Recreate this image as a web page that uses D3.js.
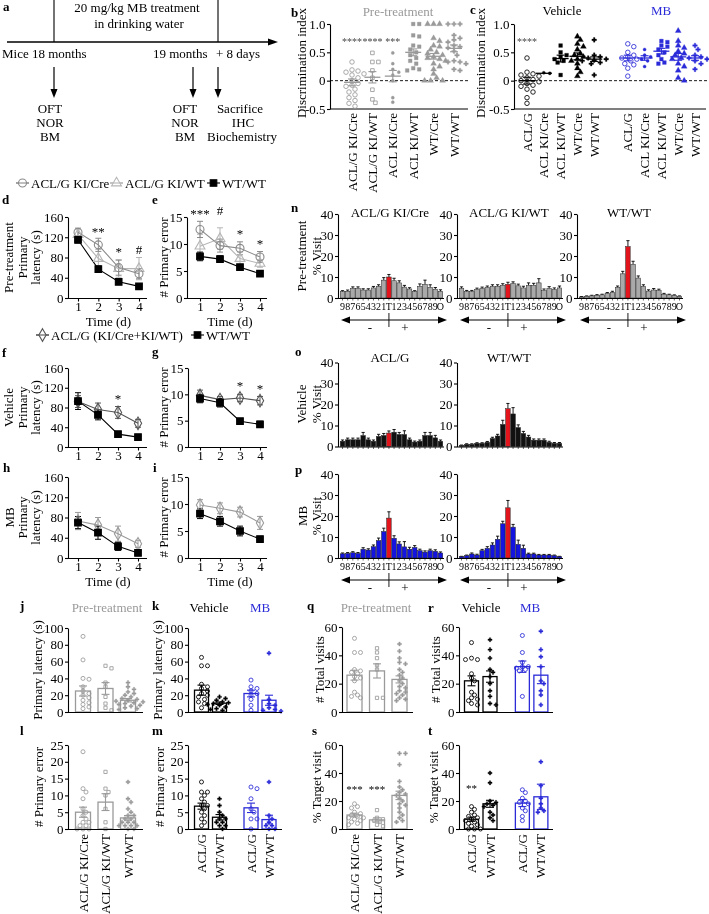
<!DOCTYPE html>
<html>
<head>
<meta charset="utf-8">
<script src="https://cdn.jsdelivr.net/npm/d3@7/dist/d3.min.js"></script>
<style>html,body{margin:0;padding:0;background:#fff;}svg{display:block;will-change:transform;}</style>
</head>
<body>
<script>
// ======================= DATA =======================
const days = [1, 2, 3, 4];

// d – pre-treatment primary latency (s), mean ± SEM
const dLatKICre = [130, 105, 60, 48];
const dLatKICreSem = [8, 13, 15, 10];
const dLatKIWT = [125, 78, 58, 58];
const dLatKIWTSem = [10, 18, 17, 22];
const dLatWT = [115, 57, 32, 23];
const dLatWTSem = [6, 6, 4, 3];
// e – pre-treatment # primary error
const eErrKICre = [12.7, 9.7, 9.2, 7.6];
const eErrKICreSem = [1.5, 1.2, 1.2, 1.0];
const eErrKIWT = [9.6, 11.0, 7.3, 6.4];
const eErrKIWTSem = [2.2, 2.0, 1.2, 0.7];
const eErrWT = [7.7, 7.2, 5.7, 4.5];
const eErrWTSem = [0.8, 0.6, 0.5, 0.3];
// f – vehicle latency
const fLatACLG = [92, 76, 70, 48];
const fLatACLGSem = [12, 13, 12, 8];
const fLatWT = [93, 65, 26, 20];
const fLatWTSem = [17, 10, 3, 3];
// g – vehicle errors
const gErrACLG = [9.8, 9.0, 9.3, 8.8];
const gErrACLGSem = [1.0, 0.6, 0.7, 0.8];
const gErrWT = [9.2, 8.4, 4.9, 4.3];
const gErrWTSem = [0.8, 0.8, 0.5, 0.6];
// h – MB latency
const hLatACLG = [73, 65, 48, 28];
const hLatACLGSem = [17, 15, 15, 7];
const hLatWT = [70, 50, 23, 10];
const hLatWTSem = [12, 13, 8, 3];
// i – MB errors
const iErrACLG = [9.8, 9.2, 8.5, 6.5];
const iErrACLGSem = [1.0, 1.0, 0.9, 1.2];
const iErrWT = [8.2, 6.8, 5.0, 3.5];
const iErrWTSem = [0.9, 0.9, 0.9, 0.5];

const dStars = [{ day: 2, v: 122, t: "**" }, { day: 3, v: 82, t: "*" }, { day: 4, v: 86, t: "#" }];
const eStars = [{ day: 1, v: 14.8, t: "***" }, { day: 2, v: 15.3, t: "#" }, { day: 3, v: 11.05, t: "*" }, { day: 4, v: 9.2, t: "*" }];
const fStars = [{ day: 3, v: 88.5, t: "*" }];
const gStars = [{ day: 3, v: 10.8, t: "*" }, { day: 4, v: 10.2, t: "*" }];

// b – NOR discrimination index, pre-treatment
const bGroups = ["ACL/G KI/Cre", "ACL/G KI/WT", "ACL KI/Cre", "ACL KI/WT", "WT/Cre", "WT/WT"];
const bKIGCre = [0.33, 0.19, 0.17, 0.15, 0.12, 0.1, 0.05, 0.0, -0.05, -0.08, -0.1, -0.15, -0.2, -0.25, -0.3, -0.35, -0.4, -0.45];
const bKIGWT = [0.49, 0.33, 0.33, 0.18, 0.05, -0.16, -0.33, -0.39];
const bKICre = [0.49, 0.3, 0.2, 0.15, 0.1, 0.0, -0.3, -0.38];
const bKIWT = [1.0, 1.0, 0.8, 0.78, 0.62, 0.6, 0.55, 0.5, 0.45, 0.4, 0.35, 0.3, 0.22, 0.2, 0.18];
const bWTCre = [1.0, 1.0, 1.0, 0.75, 0.7, 0.62, 0.6, 0.55, 0.5, 0.48, 0.45, 0.42, 0.4, 0.38, 0.35, 0.3, 0.25, 0.2, 0.12, 0.05, 0.0, 0.0, 0.0];
const bWTWT = [1.0, 1.0, 1.0, 0.8, 0.75, 0.72, 0.68, 0.62, 0.6, 0.58, 0.52, 0.45, 0.35, 0.33, 0.33, 0.3, 0.2, 0.18];
const bMean = [-0.03, 0.06, 0.08, 0.5, 0.43, 0.57];
const bSem = [0.06, 0.1, 0.1, 0.06, 0.05, 0.06];
const bStars = [{ g: 0, t: "****", v: 0.63 }, { g: 1, t: "****", v: 0.63 }, { g: 2, t: "***", v: 0.63 }];

// c – discrimination index after treatment
const cGroups = ["ACL/G", "ACL KI/Cre", "ACL KI/WT", "WT/Cre", "WT/WT"];
const cVehACLG = [0.4, 0.15, 0.12, 0.1, 0.08, 0.05, 0.02, 0, -0.02, -0.05, -0.08, -0.1, -0.15, -0.2, -0.3, -0.4];
const cVehKICre = [0.14, 0.13];
const cVehKIWT = [0.62, 0.5, 0.45, 0.42, 0.38, 0.35, 0.32, 0.1];
const cVehWTCre = [0.78, 0.72, 0.65, 0.6, 0.55, 0.48, 0.45, 0.42, 0.38, 0.35, 0.3, 0.22, 0.15, 0.08];
const cVehWTWT = [0.72, 0.45, 0.42, 0.4, 0.38, 0.36, 0.35, 0.32, 0.3, 0.1];
const cMBACLG = [0.65, 0.6, 0.5, 0.45, 0.42, 0.4, 0.38, 0.35, 0.3, 0.28, 0.22, 0.08];
const cMBKICre = [0.55, 0.45, 0.42, 0.38, 0.35, 0.25];
const cMBKIWT = [0.7, 0.68, 0.62, 0.6, 0.55, 0.5, 0.45, 0.38, 0.32, 0.3];
const cMBWTCre = [0.88, 0.7, 0.62, 0.58, 0.52, 0.48, 0.45, 0.4, 0.38, 0.3, 0.25, 0.18, 0.05, 0.0];
const cMBWTWT = [0.62, 0.55, 0.45, 0.42, 0.4, 0.38, 0.35, 0.3, 0.2];
const cVehMean = [0.0, 0.13, 0.39, 0.43, 0.38];
const cVehSem = [0.06, 0.005, 0.06, 0.06, 0.04];
const cMBMean = [0.4, 0.4, 0.52, 0.42, 0.4];
const cMBSem = [0.05, 0.04, 0.05, 0.06, 0.04];
const cStars = [{ g: 0, t: "****", v: 0.63 }];

// n, o, p – Barnes maze hole visits (% visit)
const holes = ["9", "8", "7", "6", "5", "4", "3", "2", "1", "T", "1", "2", "3", "4", "5", "6", "7", "8", "9", "O"];
const nKICre = [3, 3.2, 4.5, 4.5, 3.8, 3.8, 4.8, 5.5, 8.5, 10, 8.2, 7.2, 5.2, 4.3, 3, 5.5, 6.5, 5, 4.2, 3.2];
const nKICreSem = [0.5, 0.6, 0.8, 0.8, 0.6, 0.6, 0.7, 0.8, 1.2, 1.2, 1.2, 1.0, 0.8, 0.6, 0.5, 1.2, 2.0, 1.3, 0.8, 0.7];
const nKIWT = [4.5, 3, 3, 4, 4.5, 5, 5.5, 5.5, 6, 6.5, 6.8, 5.8, 4.8, 6, 6, 7.2, 3.5, 4.5, 4, 4.8];
const nKIWTSem = [0.8, 0.6, 0.6, 0.7, 0.7, 0.7, 0.8, 0.8, 0.8, 1.0, 0.9, 0.8, 0.8, 1.2, 1.0, 2.0, 0.8, 0.9, 0.8, 0.9];
const nWT = [0.5, 0.8, 1, 1.3, 1.5, 2.2, 2.7, 5, 11.5, 24.5, 16, 9.5, 5.5, 3.3, 3.8, 3.5, 1.8, 1.5, 1.2, 0.8];
const nWTSem = [0.2, 0.2, 0.3, 0.3, 0.3, 0.4, 0.5, 0.7, 1.2, 2.8, 1.5, 1.0, 0.8, 0.6, 0.7, 0.7, 0.4, 0.3, 0.3, 0.2];
const oACLG = [2.5, 3.2, 3.2, 3.2, 5.2, 3.2, 2.5, 4.8, 5.2, 6.4, 6.8, 5.7, 5.7, 3.2, 2.1, 2.5, 5.2, 5.2, 4.1, 2.5];
const oACLGSem = [0.6, 0.8, 0.8, 0.8, 1.5, 0.8, 0.6, 1.0, 1.0, 1.0, 1.3, 1.0, 1.8, 0.8, 0.5, 0.6, 1.5, 1.5, 1.2, 0.6];
const oWT = [0.5, 1, 1, 1.5, 1.5, 2, 3.8, 5, 10.5, 18, 15.5, 9, 6.2, 4.5, 3, 3, 3, 2, 1.5, 1.5];
const oWTSem = [0.2, 0.3, 0.3, 0.3, 0.3, 0.4, 0.6, 0.8, 2.0, 2.5, 3.0, 1.3, 1.0, 0.8, 0.6, 0.6, 0.6, 0.5, 0.4, 0.4];
const pACLG = [2, 2.2, 2.5, 2.2, 4.2, 3.8, 5.4, 8.3, 12.6, 19, 9.4, 6.7, 5.3, 4.2, 5, 3.5, 2.8, 3.5, 3.2, 2.4];
const pACLGSem = [0.4, 0.4, 0.5, 0.4, 0.7, 0.6, 0.8, 1.2, 1.6, 3.0, 1.2, 1.0, 2.5, 0.9, 0.9, 0.7, 0.6, 0.7, 0.7, 0.5];
const pWT = [0.6, 1.1, 1.9, 1.4, 3.5, 4.6, 6.2, 8.9, 16.3, 23.9, 14.7, 6.5, 4.6, 1.9, 1.9, 1.4, 1.4, 1.4, 1.1, 0.6];
const pWTSem = [0.2, 0.3, 0.5, 0.4, 0.6, 0.8, 1.0, 1.5, 1.2, 3.5, 1.3, 2.0, 1.5, 0.4, 0.4, 0.3, 0.3, 0.3, 0.3, 0.2];

// j – probe primary latency (pre-treatment); k – vehicle / MB
const jKICre = [90, 62, 40, 39, 30, 25, 22, 20, 17, 14, 11, 9, 6, 4];
const jKIWT = [55, 52, 35, 30, 18, 10, 5, 2];
const jWT = [35, 30, 27, 24, 22, 20, 18, 16, 15, 14, 13, 12, 11, 10, 9, 8, 7, 5, 4, 3];
const jMean = [25, 28, 14];
const jSem = [6, 7, 2];
const kVehACLG = [65, 55, 55, 33, 30, 28, 25, 22, 20, 18, 15, 12, 10, 5];
const kVehWT = [18, 16, 14, 12, 11, 10, 9, 8, 6, 4, 3, 2];
const kMBACLG = [38, 30, 28, 25, 22, 20, 15, 8, 2];
const kMBWT = [70, 15, 10, 8, 5, 3, 2, 1];
const kMean = [26, 10.5, 22, 14];
const kSem = [6, 1.5, 4, 6];
// l, m – probe # primary error
const lKICre = [23, 12, 11, 9, 6, 5, 4, 3, 2, 2, 1, 1, 0, 0, 0];
const lKIWT = [17, 12, 11, 10, 6, 2, 0];
const lWT = [14, 9, 8, 6, 5, 4, 4, 3, 3, 2, 2, 2, 1, 1, 1, 1, 0, 0];
const lMean = [5, 8, 3.3];
const lSem = [1.5, 2.5, 0.7];
const mVehACLG = [14, 11, 11, 10, 9, 8, 7, 7, 6, 5, 4, 3, 2, 1];
const mVehWT = [9, 7, 5, 4, 3, 3, 2, 2, 1, 1, 0];
const mMBACLG = [12, 12.5, 9, 6, 5, 3, 3, 0];
const mMBWT = [14, 4, 3, 2, 1, 1, 0, 0];
const mMean = [6.8, 3.5, 6.3, 2.8];
const mSem = [0.9, 0.8, 1.4, 1.3];
// q, r – # total visits
const qKICre = [52, 42, 42, 30, 29, 28, 27, 25, 24, 22, 14, 12, 11, 10];
const qKIWT = [45, 42, 38, 33, 30, 10, 10];
const qWT = [48, 43, 38, 35, 34, 30, 28, 26, 24, 22, 20, 18, 17, 15, 14, 13, 12, 10, 9, 8];
const qMean = [26, 29, 23];
const qSem = [3.5, 5, 2.5];
const rVehACLG = [49, 38, 37, 37, 27, 24, 22, 14, 12, 10, 9, 8, 6, 5];
const rVehWT = [51, 44, 38, 30, 28, 25, 20, 15, 11, 6, 5];
const rMBACLG = [54, 42, 35, 32, 32, 31, 30, 29, 11];
const rMBWT = [57, 44, 39, 32, 22, 20, 15, 12, 5];
const rMean = [22, 25, 32, 26];
const rSem = [3.5, 4, 4, 6];
// s, t – % target visit
const sKICre = [18, 16, 15, 12, 11, 10, 9, 8, 8, 7, 6, 5, 4, 3];
const sKIWT = [13.5, 8, 7, 6, 5, 3, 2];
const sWT = [54, 54, 46, 34, 30, 28, 26, 25, 24, 22, 20, 18, 17, 15, 12, 10, 8, 6, 5];
const sMean = [10, 6.5, 24];
const sSem = [1.3, 1.5, 3];
const sStars = [{ g: 0, t: "***", v: 25.7 }, { g: 1, t: "***", v: 25.7 }];
const tVehACLG = [16, 14, 12, 10, 9, 8, 7, 6, 5, 4, 3, 2, 0, 0, 0];
const tVehWT = [40, 33, 20, 19, 18, 17, 16, 12, 10, 8, 6];
const tMBACLG = [28, 26, 22, 20, 19, 18, 15, 13, 9, 6];
const tMBWT = [48, 31, 22, 18, 15, 13, 12];
const tMean = [7, 18, 18.5, 23];
const tSem = [1.5, 2.5, 2.5, 9];
const tStars = [{ g: 0, t: "**", v: 26.4 }];

const preLabels = ["ACL/G KI/Cre", "ACL/G KI/WT", "WT/WT"];
const postLabels = ["ACL/G", "WT/WT", "ACL/G", "WT/WT"];

// ======================= STYLE / HELPERS =======================
const SERIF = "'Liberation Serif','Times New Roman',Times,serif";
const GRAY = "#9a9a9a", LGRAY = "#b5b5b5", MGRAY = "#8a8a8a", DGRAY = "#555555";
const BLUE = "#2b2bd8", RED = "#e3141b", BARGRAY = "#a9a9a9";

const svg = d3.select("body").append("svg").attr("width", 709).attr("height", 914)
  .attr("font-family", SERIF);

function txt(x, y, s, o = {}) {
  const t = svg.append("text").attr("x", x).attr("y", y).text(s)
    .attr("font-size", o.size || 13).attr("text-anchor", o.anchor || "start")
    .attr("fill", o.color || "#000");
  if (o.bold) t.attr("font-weight", "bold");
  return t;
}
function vtxt(x, y, s, o = {}) {
  return svg.append("text").attr("transform", `translate(${x},${y}) rotate(-90)`).text(s)
    .attr("font-size", o.size || 13).attr("text-anchor", o.anchor || "middle")
    .attr("fill", o.color || "#000");
}
function ln(x1, y1, x2, y2, o = {}) {
  const l = svg.append("line").attr("x1", x1).attr("y1", y1).attr("x2", x2).attr("y2", y2)
    .attr("stroke", o.color || "#000").attr("stroke-width", o.w || 1.1);
  if (o.dash) l.attr("stroke-dasharray", o.dash);
  return l;
}
function tri(points, color) {
  svg.append("path").attr("d", "M" + points.map(p => p.join(",")).join("L") + "Z").attr("fill", color || "#000");
}
function yAxis(x, scale, ticks, fmt) {
  const g = svg.append("g").attr("transform", `translate(${x},0)`)
    .call(d3.axisLeft(scale).tickValues(ticks).tickSize(3).tickSizeOuter(0).tickPadding(1.5)
      .tickFormat(fmt || (d => String(d))));
  g.attr("font-family", SERIF).attr("font-size", 13);
  g.selectAll("path,line").attr("stroke", "#000").attr("stroke-width", 1.1);
  return g;
}
const ST = {
  oc: { type: d3.symbolCircle, size: 16, open: true },
  os: { type: d3.symbolSquare, size: 13, open: true },
  dot: { type: d3.symbolCircle, size: 8, open: false },
  fs: { type: d3.symbolSquare, size: 14, open: false },
  ft: { type: d3.symbolTriangle, size: 15, open: false },
  fx: { type: d3.symbolCross, size: 12, open: false }
};
function sym(x, y, st, color, mul = 1) {
  svg.append("path").attr("d", d3.symbol().type(st.type).size(st.size * mul)())
    .attr("transform", `translate(${x},${y})`)
    .attr("fill", st.open ? "none" : color)
    .attr("stroke", color).attr("stroke-width", st.open ? 0.85 : 0.3);
}
function dodge(vals, y, r, step) {
  const order = vals.map((v, i) => i).sort((a, b) => vals[b] - vals[a]);
  const placed = [], off = new Array(vals.length).fill(0);
  for (const i of order) {
    const py = y(vals[i]);
    let chosen = 0;
    for (let k = 0; k < 80; k++) {
      const o = k === 0 ? 0 : (k % 2 ? 1 : -1) * Math.ceil(k / 2) * step;
      if (placed.every(p => (p.x - o) ** 2 + (p.y - py) ** 2 >= (2 * r) ** 2)) { chosen = o; break; }
    }
    off[i] = chosen; placed.push({ x: chosen, y: py });
  }
  return off;
}
function errI(cx, yLo, yHi, half, color, w) {
  ln(cx, yLo, cx, yHi, { color, w: w || 1.1 });
  ln(cx - half, yHi, cx + half, yHi, { color, w: w || 1.1 });
  ln(cx - half, yLo, cx + half, yLo, { color, w: w || 1.1 });
}

// ======================= PANEL a =======================
txt(3, 11, "a", { bold: true });
txt(137, 12, "20 mg/kg MB treatment", { anchor: "middle" });
txt(139, 28, "in drinking water", { anchor: "middle" });
ln(54, 0, 54, 42); ln(218, 0, 218, 42);
ln(7, 42, 270, 42, { w: 1.3 });
tri([[278, 42], [268, 38.5], [268, 45.5]]);
txt(2, 58, "Mice 18 months");
txt(153, 58, "19 months");
txt(216, 58, "+ 8 days");
[54, 193, 218].forEach(x => { ln(x, 67, x, 90, { w: 1.2 }); tri([[x, 98], [x - 3.5, 89], [x + 3.5, 89]]); });
[["OFT", 113], ["NOR", 127], ["BM", 141]].forEach(([s, y]) => { txt(50, y, s, { anchor: "middle" }); txt(185, y, s, { anchor: "middle" }); });
txt(240, 113, "Sacrifice", { anchor: "middle" });
txt(243, 127, "IHC", { anchor: "middle" });
txt(242, 141, "Biochemistry", { anchor: "middle" });

// ======================= PANELS b, c =======================
const fmtDI = d => d === 0 ? "0" : (d < 0 ? "-" : "") + Math.abs(d).toFixed(1);
function scatterGroup(cx, y, pts, mean, sem, color, st) {
  const off = dodge(pts, y, 2.1, 3.0);
  pts.forEach((v, i) => sym(cx + off[i], y(v), st, color));
  ln(cx - 8, y(mean), cx + 8, y(mean), { color, w: 1.3 });
  if (sem > 0.01) errI(cx, y(mean - sem), y(mean + sem), 4, color, 1.1);
}
{
  txt(291, 17, "b", { bold: true });
  txt(398, 16, "Pre-treatment", { anchor: "middle", color: GRAY });
  const y = d3.scaleLinear().domain([-0.5, 1.0]).range([109, 24]);
  const x = d3.scaleLinear().domain([0, 1]).range([352, 372.4]);
  yAxis(330, y, [-0.5, 0, 0.5, 1.0], fmtDI);
  ln(330, y(-0.5), 468, y(-0.5));
  ln(330, y(0), 468, y(0), { dash: "3,2", w: 0.9 });
  vtxt(306, 63, "Discrimination index");
  const sets = [bKIGCre, bKIGWT, bKICre, bKIWT, bWTCre, bWTWT];
  const shapes = [ST.oc, ST.os, ST.dot, ST.fs, ST.ft, ST.fx];
  sets.forEach((pts, i) => scatterGroup(x(i), y, pts, bMean[i], bSem[i], GRAY, shapes[i]));
  bGroups.forEach((g, i) => vtxt(x(i) + 4.5, 113, g, { anchor: "end" }));
  bStars.forEach(s => txt(x(s.g), y(s.v), s.t, { anchor: "middle", size: 10, color: "#444" }));
}
{
  txt(470, 14, "c", { bold: true });
  txt(562, 15, "Vehicle", { anchor: "middle" });
  txt(661, 15, "MB", { anchor: "middle", color: BLUE });
  const y = d3.scaleLinear().domain([-0.5, 1.0]).range([109, 24]);
  const x = d3.scaleLinear().domain([0, 1]).range([527, 543.8]);
  yAxis(514, y, [-0.5, 0, 0.5, 1.0], fmtDI);
  ln(514, y(-0.5), 706, y(-0.5));
  ln(514, y(0), 709, y(0), { dash: "3,2", w: 0.9 });
  vtxt(485, 63, "Discrimination index");
  const veh = [cVehACLG, cVehKICre, cVehKIWT, cVehWTCre, cVehWTWT];
  const mb = [cMBACLG, cMBKICre, cMBKIWT, cMBWTCre, cMBWTWT];
  const shapes = [ST.oc, ST.dot, ST.fs, ST.ft, ST.fx];
  veh.forEach((pts, i) => scatterGroup(x(i), y, pts, cVehMean[i], cVehSem[i], "#000", shapes[i]));
  mb.forEach((pts, i) => scatterGroup(x(i + 6), y, pts, cMBMean[i], cMBSem[i], BLUE, shapes[i]));
  cGroups.forEach((g, i) => { vtxt(x(i) + 4.5, 113, g, { anchor: "end" }); vtxt(x(i + 6) + 4.5, 113, g, { anchor: "end" }); });
  cStars.forEach(s => txt(x(s.g), y(s.v), s.t, { anchor: "middle", size: 10, color: "#444" }));
}

// ======================= LINE PANELS d–i =======================
const LS = {
  circ: { type: d3.symbolCircle, size: 50, open: true },
  triU: { type: d3.symbolTriangle, size: 42, open: true },
  sq: { type: d3.symbolSquare, size: 44, open: false },
  dia: { type: d3.symbolDiamond, size: 46, open: true }
};
function linePanel(o) {
  const x = d3.scaleLinear().domain([1, 4]).range([o.x1, o.x4]);
  const y = d3.scaleLinear().domain([0, o.yMax]).range([o.yBot, o.yTop]);
  yAxis(o.axisX, y, o.yTicks);
  ln(o.axisX, o.yBot + 0.5, o.xEnd, o.yBot + 0.5);
  const gx = svg.append("g").attr("transform", `translate(0,${o.yBot + 0.5})`)
    .call(d3.axisBottom(x).tickValues(days).tickSize(3).tickSizeOuter(0).tickPadding(0).tickFormat(d => String(d)));
  gx.select(".domain").remove();
  gx.attr("font-family", SERIF).attr("font-size", 13);
  gx.selectAll("line").attr("stroke", "#000").attr("stroke-width", 1.1);
  if (o.time) txt((o.x1 + o.x4) / 2, o.yBot + 28, "Time (d)", { anchor: "middle" });
  o.series.forEach(s => {
    s.v.forEach((v, i) => { if (s.s[i] > 0) errI(x(days[i]), y(v - s.s[i]), y(v + s.s[i]), 3, s.color, 1); });
  });
  o.series.forEach(s => {
    svg.append("path").datum(s.v)
      .attr("d", d3.line().x((v, i) => x(days[i])).y(v => y(v)))
      .attr("fill", "none").attr("stroke", s.color).attr("stroke-width", 1.1);
  });
  o.series.forEach(s => {
    s.v.forEach((v, i) => {
      svg.append("path").attr("d", d3.symbol().type(s.m.type).size(s.m.size)())
        .attr("transform", `translate(${x(days[i])},${y(v)})`)
        .attr("fill", s.m.open ? "none" : s.color).attr("stroke", s.color).attr("stroke-width", 1.1);
    });
  });
  (o.stars || []).forEach(st => txt(x(st.day), y(st.v), st.t, { anchor: "middle", size: 13 }));
  o.ylab.forEach((t, i) => vtxt(o.ylabX[i], (o.yTop + o.yBot) / 2, t));
}
const latTicks = [0, 40, 80, 120, 160], errTicks = [0, 5, 10, 15];
txt(2, 204, "d", { bold: true });
txt(152, 204, "e", { bold: true });
linePanel({ axisX: 68, xEnd: 147, x1: 78, x4: 139, yTop: 217, yBot: 298, yMax: 160, yTicks: latTicks, time: true,
  series: [{ v: dLatKIWT, s: dLatKIWTSem, color: LGRAY, m: LS.triU }, { v: dLatKICre, s: dLatKICreSem, color: MGRAY, m: LS.circ }, { v: dLatWT, s: dLatWTSem, color: "#000", m: LS.sq }],
  stars: dStars, ylab: ["Pre-treatment", "Primary", "latency (s)"], ylabX: [13, 26.5, 39.5] });
linePanel({ axisX: 187, xEnd: 267, x1: 200, x4: 260, yTop: 217, yBot: 298, yMax: 15, yTicks: errTicks, time: true,
  series: [{ v: eErrKIWT, s: eErrKIWTSem, color: LGRAY, m: LS.triU }, { v: eErrKICre, s: eErrKICreSem, color: MGRAY, m: LS.circ }, { v: eErrWT, s: eErrWTSem, color: "#000", m: LS.sq }],
  stars: eStars, ylab: ["# Primary error"], ylabX: [168] });

// legends
function legItem(x0, y0, m, color, label) {
  ln(x0, y0, x0 + 13, y0, { color, w: 1.1 });
  svg.append("path").attr("d", d3.symbol().type(m.type).size(m.size)()).attr("transform", `translate(${x0 + 6.5},${y0})`)
    .attr("fill", m.open ? "#fff" : color).attr("stroke", color).attr("stroke-width", 1.1);
  if (m.open) ln(x0, y0, x0 + 13, y0, { color, w: 1.1 });
  txt(x0 + 15, y0 + 4.5, label);
}
legItem(16, 183, LS.circ, MGRAY, "ACL/G KI/Cre");
legItem(110, 183, LS.triU, LGRAY, "ACL/G KI/WT");
legItem(207, 183, LS.sq, "#000", "WT/WT");
legItem(36, 335, LS.dia, DGRAY, "ACL/G (KI/Cre+KI/WT)");
legItem(191, 335, LS.sq, "#000", "WT/WT");

txt(2, 357, "f", { bold: true });
txt(152, 356, "g", { bold: true });
linePanel({ axisX: 68, xEnd: 147, x1: 78, x4: 138, yTop: 368, yBot: 447, yMax: 160, yTicks: latTicks, time: false,
  series: [{ v: fLatACLG, s: fLatACLGSem, color: DGRAY, m: LS.dia }, { v: fLatWT, s: fLatWTSem, color: "#000", m: LS.sq }],
  stars: fStars, ylab: ["Vehicle", "Primary", "latency (s)"], ylabX: [13, 26.5, 39.5] });
linePanel({ axisX: 188, xEnd: 267, x1: 200, x4: 260, yTop: 368, yBot: 447, yMax: 15, yTicks: errTicks, time: false,
  series: [{ v: gErrACLG, s: gErrACLGSem, color: DGRAY, m: LS.dia }, { v: gErrWT, s: gErrWTSem, color: "#000", m: LS.sq }],
  stars: gStars, ylab: ["# Primary error"], ylabX: [168] });

txt(3, 472, "h", { bold: true });
txt(153, 472, "i", { bold: true });
linePanel({ axisX: 68, xEnd: 147, x1: 78, x4: 138, yTop: 477, yBot: 558, yMax: 160, yTicks: latTicks, time: true,
  series: [{ v: hLatACLG, s: hLatACLGSem, color: GRAY, m: LS.dia }, { v: hLatWT, s: hLatWTSem, color: "#000", m: LS.sq }],
  ylab: ["MB", "Primary", "latency (s)"], ylabX: [14, 27, 40] });
linePanel({ axisX: 188, xEnd: 267, x1: 200, x4: 260, yTop: 477, yBot: 558, yMax: 15, yTicks: errTicks, time: true,
  series: [{ v: iErrACLG, s: iErrACLGSem, color: GRAY, m: LS.dia }, { v: iErrWT, s: iErrWTSem, color: "#000", m: LS.sq }],
  ylab: ["# Primary error"], ylabX: [168] });

// ======================= MAZE PANELS n, o, p =======================
function mazePanel(o) {
  const x = d3.scaleBand().domain(d3.range(holes.length)).range([o.start, o.start + 103]).paddingInner(0.12).paddingOuter(0.05);
  const y = d3.scaleLinear().domain([0, 40]).range([o.yZero, o.yZero - 84]);
  const ax = o.start - 2;
  yAxis(ax, y, [0, 10, 20, 30, 40]);
  o.vals.forEach((v, i) => {
    const cx = x(i) + x.bandwidth() / 2;
    ln(cx, y(v), cx, y(v + o.sems[i]), { w: 0.9 });
    ln(cx - 1.6, y(v + o.sems[i]), cx + 1.6, y(v + o.sems[i]), { w: 0.9 });
  });
  o.vals.forEach((v, i) => {
    svg.append("rect").attr("x", x(i)).attr("y", y(v)).attr("width", x.bandwidth()).attr("height", o.yZero - y(v))
      .attr("fill", holes[i] === "T" ? RED : o.fill).attr("stroke", "#222").attr("stroke-width", 0.5);
  });
  ln(ax, o.yZero + 0.5, o.start + 104, o.yZero + 0.5);
  holes.forEach((h, i) => ln(x(i) + x.bandwidth() / 2, o.yZero + 0.5, x(i) + x.bandwidth() / 2, o.yZero + 2.5, { w: 0.6 }));
  const tX = x(holes.indexOf("T")) + x.bandwidth() / 2;
  if (o.title) txt(tX + 1, o.titleY, o.title, { anchor: "middle" });
  if (o.showX) {
    holes.forEach((h, i) => txt(x(i) + x.bandwidth() / 2, o.yZero + 12, h, { anchor: "middle", size: 10 }));
    const ay = o.yZero + 22;
    ln(o.start + 8, ay, o.start + 100, ay, { w: 1.2 });
    tri([[o.start + 1, ay], [o.start + 10, ay - 3.5], [o.start + 10, ay + 3.5]]);
    tri([[o.start + 107, ay], [o.start + 98, ay - 3.5], [o.start + 98, ay + 3.5]]);
    ln(tX, ay - 7, tX, ay + 7, { w: 0.9 });
    txt(tX - 19, ay + 12, "-", { anchor: "middle" });
    txt(tX + 16, ay + 12, "+", { anchor: "middle" });
  }
}
txt(291, 212, "n", { bold: true });
vtxt(306, 256, "Pre-treatment"); vtxt(321, 256, "% Visit");
mazePanel({ start: 340, yZero: 298, vals: nKICre, sems: nKICreSem, fill: BARGRAY, showX: true, title: "ACL/G KI/Cre", titleY: 217 });
mazePanel({ start: 459, yZero: 298, vals: nKIWT, sems: nKIWTSem, fill: BARGRAY, showX: true, title: "ACL/G KI/WT", titleY: 217 });
mazePanel({ start: 579, yZero: 298, vals: nWT, sems: nWTSem, fill: BARGRAY, showX: true, title: "WT/WT", titleY: 217 });
txt(295, 356, "o", { bold: true });
vtxt(306, 404, "Vehicle"); vtxt(321, 404, "% Visit");
mazePanel({ start: 340, yZero: 446.5, vals: oACLG, sems: oACLGSem, fill: "#111", showX: false, title: "ACL/G", titleY: 362 });
mazePanel({ start: 459, yZero: 446.5, vals: oWT, sems: oWTSem, fill: "#111", showX: false, title: "WT/WT", titleY: 362 });
txt(295, 474, "p", { bold: true });
vtxt(307, 516, "MB"); vtxt(321, 516, "% Visit");
mazePanel({ start: 340, yZero: 558, vals: pACLG, sems: pACLGSem, fill: "#1414e0", showX: true });
mazePanel({ start: 459, yZero: 558, vals: pWT, sems: pWTSem, fill: "#1414e0", showX: true });

// ======================= BAR + SCATTER PANELS j–m, q–t =======================
function barPanel(o) {
  const y = d3.scaleLinear().domain([0, o.yMax]).range([o.yBot, o.yTop]);
  yAxis(o.axisX, y, o.yTicks);
  o.sets.forEach((pts, i) => {
    const cx = o.x(o.slots[i]);
    const col = o.colors[i];
    const m = o.mean[i];
    svg.append("rect").attr("x", cx - o.bw / 2).attr("y", y(m)).attr("width", o.bw).attr("height", o.yBot - y(m))
      .attr("fill", "#fff").attr("stroke", col).attr("stroke-width", 1.3);
    const off = dodge(pts, y, 2.0, 3.0);
    pts.forEach((v, k) => sym(cx + off[k], y(v), o.shapes[i], col, 0.8));
    errI(cx, y(m - o.sem[i]), y(m + o.sem[i]), 4, col, 1.1);
  });
  ln(o.axisX, o.yBot + 0.5, o.xEnd, o.yBot + 0.5, { w: 1.2 });
  vtxt(o.ylabX, (o.yTop + o.yBot) / 2, o.ylab);
  if (o.labels) o.labels.forEach((t, i) => vtxt(o.x(o.slots[i]) + 4.5, o.yBot + 5, t, { anchor: "end" }));
  (o.stars || []).forEach(s => txt(o.x(o.slots[s.g]), y(s.v), s.t, { anchor: "middle", size: 11 }));
}
const preX = d3.scaleLinear().domain([0, 1]).range([83, 105.5]);
const postX = d3.scaleLinear().domain([0, 1]).range([201.5, 219.5]);
const preSlots = [0, 1, 2], postSlots = [0, 1, 2.75, 3.75];
const preShapes = [ST.oc, ST.os, ST.fx], postShapes = [ST.oc, ST.fx, ST.oc, ST.fx];
const preColors = [GRAY, GRAY, GRAY], postColors = ["#000", "#000", BLUE, BLUE];

txt(20, 610, "j", { bold: true });
txt(107, 612, "Pre-treatment", { anchor: "middle", color: GRAY });
barPanel({ axisX: 68, xEnd: 143, yTop: 628, yBot: 712, yMax: 100, yTicks: [0, 20, 40, 60, 80, 100], x: preX, slots: preSlots, bw: 15,
  sets: [jKICre, jKIWT, jWT], mean: jMean, sem: jSem, colors: preColors, shapes: preShapes, ylab: "Primary latency (s)", ylabX: 42 });
txt(152, 610, "k", { bold: true });
txt(209, 612, "Vehicle", { anchor: "middle" });
txt(260, 612, "MB", { anchor: "middle", color: BLUE });
barPanel({ axisX: 188, xEnd: 282, yTop: 628, yBot: 712, yMax: 100, yTicks: [0, 20, 40, 60, 80, 100], x: postX, slots: postSlots, bw: 14,
  sets: [kVehACLG, kVehWT, kMBACLG, kMBWT], mean: kMean, sem: kSem, colors: postColors, shapes: postShapes, ylab: "Primary latency (s)", ylabX: 162 });
txt(20, 735, "l", { bold: true });
barPanel({ axisX: 68, xEnd: 143, yTop: 745, yBot: 829, yMax: 25, yTicks: [0, 5, 10, 15, 20, 25], x: preX, slots: preSlots, bw: 15,
  sets: [lKICre, lKIWT, lWT], mean: lMean, sem: lSem, colors: preColors, shapes: preShapes, ylab: "# Primary error", ylabX: 43, labels: preLabels });
txt(152, 735, "m", { bold: true });
barPanel({ axisX: 188, xEnd: 282, yTop: 745, yBot: 829, yMax: 25, yTicks: [0, 5, 10, 15, 20, 25], x: postX, slots: postSlots, bw: 14,
  sets: [mVehACLG, mVehWT, mMBACLG, mMBWT], mean: mMean, sem: mSem, colors: postColors, shapes: postShapes, ylab: "# Primary error", ylabX: 164, labels: postLabels });

const preX2 = d3.scaleLinear().domain([0, 1]).range([354.5, 377]);
const postX2 = d3.scaleLinear().domain([0, 1]).range([471.5, 490]);
txt(307, 610, "q", { bold: true });
txt(376, 612, "Pre-treatment", { anchor: "middle", color: GRAY });
barPanel({ axisX: 342, xEnd: 413, yTop: 627, yBot: 712, yMax: 60, yTicks: [0, 20, 40, 60], x: preX2, slots: preSlots, bw: 15,
  sets: [qKICre, qKIWT, qWT], mean: qMean, sem: qSem, colors: preColors, shapes: preShapes, ylab: "# Total visits", ylabX: 324 });
txt(428, 612, "r", { bold: true });
txt(481, 612, "Vehicle", { anchor: "middle" });
txt(530, 612, "MB", { anchor: "middle", color: BLUE });
barPanel({ axisX: 459, xEnd: 553, yTop: 627, yBot: 712, yMax: 60, yTicks: [0, 20, 40, 60], x: postX2, slots: postSlots, bw: 14,
  sets: [rVehACLG, rVehWT, rMBACLG, rMBWT], mean: rMean, sem: rSem, colors: postColors, shapes: postShapes, ylab: "# Total visits", ylabX: 440 });
txt(312, 735, "s", { bold: true });
barPanel({ axisX: 342, xEnd: 413, yTop: 745, yBot: 829, yMax: 60, yTicks: [0, 20, 40, 60], x: preX2, slots: preSlots, bw: 15,
  sets: [sKICre, sKIWT, sWT], mean: sMean, sem: sSem, colors: preColors, shapes: preShapes, ylab: "% Target visit", ylabX: 321, labels: preLabels, stars: sStars });
txt(428, 735, "t", { bold: true });
barPanel({ axisX: 459, xEnd: 553, yTop: 745, yBot: 829, yMax: 60, yTicks: [0, 20, 40, 60], x: postX2, slots: postSlots, bw: 14,
  sets: [tVehACLG, tVehWT, tMBACLG, tMBWT], mean: tMean, sem: tSem, colors: postColors, shapes: postShapes, ylab: "% Target visit", ylabX: 438, labels: postLabels, stars: tStars });
</script>
</body>
</html>
